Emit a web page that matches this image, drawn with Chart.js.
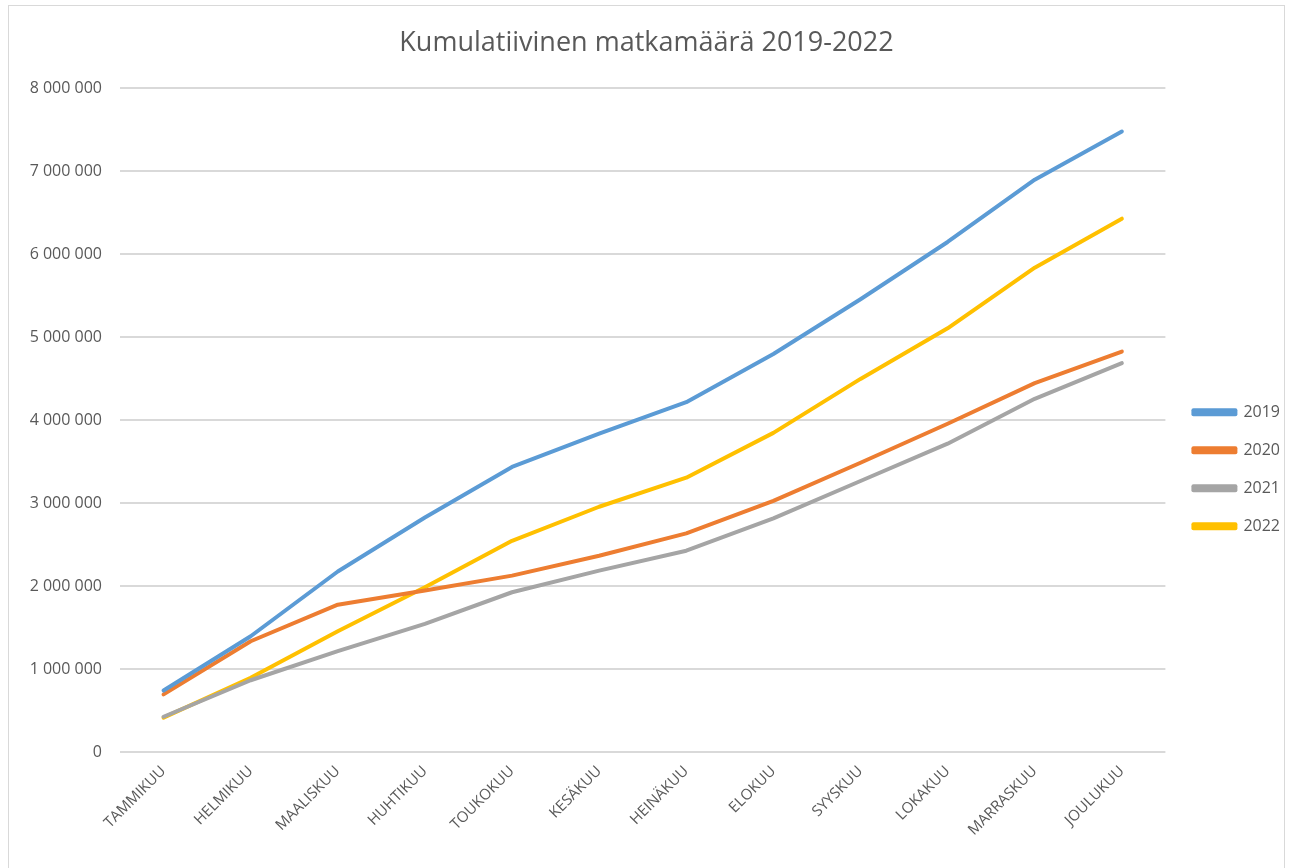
<!DOCTYPE html>
<html>
<head>
<meta charset="utf-8">
<script src="https://cdn.jsdelivr.net/npm/chart.js@4"></script>
<style>
    html, body { margin: 0; padding: 0; background: #fff; }
    #wrap {
        position: absolute;
        left: 8px; top: 5px;
        width: 1277px; height: 880px;
        border: 1px solid #d9d9d9;
        box-sizing: border-box;
    }
    #chartCanvas { display: block; }
</style>
</head>
<body>
<div id="wrap"><canvas id="chartCanvas"></canvas></div>
<script>
// Dades
const months = ['TAMMIKUU', 'HELMIKUU', 'MAALISKUU', 'HUHTIKUU', 'TOUKOKUU', 'KESÄKUU',
    'HEINÄKUU', 'ELOKUU', 'SYYSKUU', 'LOKAKUU', 'MARRASKUU', 'JOULUKUU'];
const trips2019 = [746000, 1400000, 2180000, 2830000, 3440000, 3840000, 4220000, 4800000, 5460000, 6150000, 6900000, 7480000];
const trips2020 = [700000, 1340000, 1780000, 1950000, 2130000, 2370000, 2640000, 3030000, 3490000, 3960000, 4450000, 4830000];
const trips2021 = [430000, 870000, 1220000, 1550000, 1930000, 2190000, 2430000, 2820000, 3270000, 3720000, 4260000, 4690000];
const trips2022 = [420000, 900000, 1460000, 1990000, 2550000, 2960000, 3310000, 3850000, 4500000, 5110000, 5840000, 6430000];
const yTicks = [0, 1000000, 2000000, 3000000, 4000000, 5000000, 6000000, 7000000, 8000000];

const seriesColors = { '2019': '#5b9bd5', '2020': '#ed7d31', '2021': '#a5a5a5', '2022': '#ffc000' };

function fmt(v) {
    return v.toString().replace(/\B(?=(\d{3})+(?!\d))/g, ' ');
}

function makeSet(label, data) {
    return {
        label: label,
        data: data,
        borderColor: seriesColors[label],
        backgroundColor: seriesColors[label],
        borderWidth: 4,
        pointRadius: 0,
        tension: 0,
        borderCapStyle: 'round',
        borderJoinStyle: 'round'
    };
}

// llegenda una mica més a la dreta, com a l'original
const legendShift = {
    id: 'legendShift',
    afterLayout(chart) {
        chart.legend.left += 6;
        chart.legend.right += 6;
    }
};

const canvas = document.getElementById('chartCanvas');
canvas.width = 1275;
canvas.height = 878;

new Chart(canvas.getContext('2d'), {
    type: 'line',
    data: {
        labels: months,
        datasets: [
            makeSet('2019', trips2019),
            makeSet('2020', trips2020),
            makeSet('2021', trips2021),
            makeSet('2022', trips2022)
        ]
    },
    options: {
        responsive: false,
        animation: false,
        layout: { padding: { top: 0, left: 0, right: 0, bottom: 43 } },
        scales: {
            x: {
                offset: true,
                grid: { display: false },
                border: { display: false },
                ticks: {
                    minRotation: 45,
                    maxRotation: 45,
                    color: '#595959',
                    font: { family: 'Open Sans', size: 15 },
                    padding: 2
                }
            },
            y: {
                min: 0,
                max: 8000000,
                afterBuildTicks: (axis) => { axis.ticks = yTicks.map(v => ({ value: v })); },
                afterFit: (axis) => { axis.width = 111; },
                grid: { color: '#d9d9d9', lineWidth: 2, drawTicks: false },
                border: { display: false },
                ticks: {
                    color: '#595959',
                    font: { family: 'Open Sans', size: 16 },
                    padding: 18,
                    callback: (v) => fmt(v)
                }
            }
        },
        plugins: {
            title: {
                display: true,
                text: 'Kumulatiivinen matkamäärä 2019-2022',
                color: '#595959',
                font: { family: 'Open Sans', size: 27, weight: 'normal' },
                padding: { top: 21, bottom: 29 }
            },
            legend: {
                position: 'right',
                title: {
                    display: true,
                    text: ' ',
                    font: { size: 12 },
                    padding: { top: 77, bottom: 0 }
                },
                labels: {
                    boxWidth: 42,
                    boxHeight: 4,
                    color: '#595959',
                    font: { family: 'Open Sans', size: 16 },
                    padding: 22
                }
            },
            tooltip: { enabled: false }
        }
    },
    plugins: [legendShift]
});
</script>
</body>
</html>
